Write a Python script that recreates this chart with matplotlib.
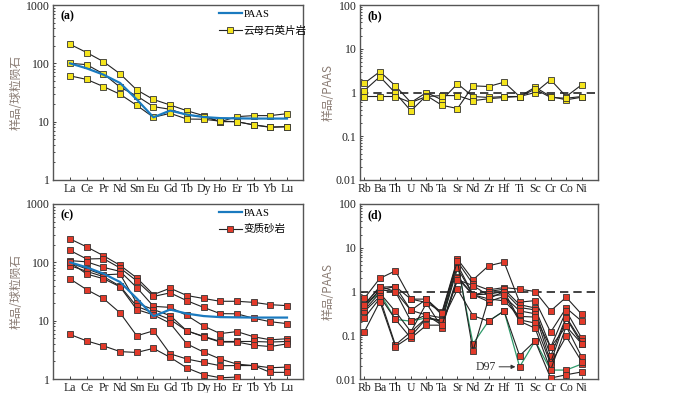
import numpy as np
import matplotlib
matplotlib.use("Agg")
import matplotlib.pyplot as plt
from matplotlib.ticker import FixedLocator, FixedFormatter, LogLocator, NullFormatter

plt.rcParams['font.family'] = ['Liberation Serif', 'Noto Sans CJK SC', 'DejaVu Sans']

# ---------------- data ----------------
ree = ["La", "Ce", "Pr", "Nd", "Sm", "Eu", "Gd", "Tb", "Dy", "Ho", "Er", "Tb", "Yb", "Lu"]
trace = ["Rb", "Ba", "Th", "U", "Nb", "Ta", "Sr", "Nd", "Zr", "Hf", "Ti", "Sc", "Cr", "Co", "Ni"]

paas_ree = [100, 82, 64, 46, 24, 11.9, 15.5, 13.2, 12.0, 11.5, 11.4, 11.3, 11.3, 11.3]

mica_ree = [
    [212, 153, 107, 66, 35, 24, 19.3, 15.4, 12.7, 10.0, 10.0, 8.8, 8.0, 8.2],
    [100, 95, 66, 39, 27.6, 18.1, 16.3, 13.0, 12.2, 10.0, 12.2, 12.7, 12.7, 13.7],
    [61, 53, 40, 29.5, 19, 11.9, 13.9, 11.1, 11.0, 10.2, 10.0, 8.8, 8.1, 8.2],
]

meta_ree = [
    [252, 184, 130, 89, 54, 28, 36, 27, 24, 21.5, 21.5, 20.6, 18.8, 18.1],
    [160, 114, 116, 80, 48, 26, 30, 22, 16.9, 13.2, 13.1, 11, 9.6, 8.9],
    [107, 102, 82, 70, 37, 17.6, 16.9, 12.3, 8.1, 6.0, 6.5, 5.3, 4.7, 4.9],
    [98, 77, 61, 63, 20, 15.5, 12.2, 6.7, 5.4, 4.4, 4.4, 4.4, 4.3, 4.4],
    [88, 70, 57, 39, 17.6, 13.6, 10.5, 6.7, 5.3, 4.3, 4.3, 3.8, 3.6, 4.0],
    [100, 63, 52.5, 38, 15.5, 12.6, 9.0, 4.0, 2.9, 2.2, 1.8, 1.7, 1.56, 1.6],
    [52, 34, 24, 13.6, 5.5, 6.7, 2.7, 2.2, 1.93, 1.69, 1.7, 1.7, 1.3, 1.3],
    [5.8, 4.5, 3.7, 2.95, 2.85, 3.35, 2.35, 1.55, 1.19, 1.05, 1.08, np.nan, np.nan, np.nan],
]

mica_trace = [
    [1.63, 3.0, 1.42, 0.59, 1.0, 0.68, 1.58, 0.81, 0.77, 0.81, 0.81, 1.0, 1.95, 0.81, 1.5],
    [1.11, 2.3, 0.97, 0.38, 0.85, 0.51, 0.43, 1.42, 1.37, 1.72, 0.81, 1.32, 0.81, 0.68, 0.78],
    [0.81, 0.81, 0.81, 0.59, 0.81, 0.85, 0.85, 0.65, 0.72, 0.77, 0.81, 1.19, 0.77, 0.74, 0.81],
]

meta_trace = [
    [0.70, 2.0, 2.96, 0.67, 0.56, 0.34, 5.5, 1.85, 3.86, 4.7, 0.57, 0.62, 0.118, 0.42, 0.21],
    [0.50, 1.25, 1.30, 0.37, 0.67, 0.29, 4.8, 1.47, 1.09, 1.23, 1.13, 1.0, 0.36, 0.74, 0.30],
    [0.44, 1.09, 1.0, 0.21, 0.29, 0.25, 4.1, 0.84, 1.0, 1.13, 0.50, 0.42, 0.053, 0.36, 0.086],
    [0.38, 0.92, 0.35, 0.12, 0.25, 0.22, 3.4, 0.84, 0.87, 1.0, 0.43, 0.38, 0.033, 0.26, 0.072],
    [0.35, 0.77, 0.23, 0.086, 0.17, 0.17, 2.2, 0.84, 0.59, 0.77, 0.36, 0.31, 0.024, 0.245, 0.064],
    [0.25, 0.70, 0.06, 0.12, 0.54, 0.15, 2.0, 0.84, 0.68, 0.61, 0.27, 0.26, 0.053, 0.16, 0.032],
    [0.12, 0.59, 0.055, 0.095, 0.245, 0.21, 1.13, 0.28, 0.21, 0.36, 0.034, 0.074, 0.0105, 0.0125, 0.0145],
    [0.44, 1.09, 1.3, 0.67, 0.67, 0.32, 5.0, 0.044, 0.68, 1.0, 0.225, 0.19, 0.022, 0.094, 0.025],
    [0.50, 1.3, 1.0, 0.37, 0.29, 0.17, 1.85, 1.37, 0.81, 0.84, 0.21, 0.145, 0.016, 0.16, 0.064],
]
d97_trace = [0.50, 0.92, 0.23, 0.21, 0.25, 0.21, 4.1, 0.064, 0.21, 0.36, 0.019, 0.074, 0.016, 0.016, 0.022]

# ---------------- styling ----------------
W, H = 700, 393
fig = plt.figure(figsize=(7.0, 3.93), dpi=100)

def ax_at(l, r, t, b):
    return fig.add_axes([l / W, 1 - b / H, (r - l) / W, (b - t) / H])

ax_a = ax_at(53, 303, 5, 180)
ax_b = ax_at(360, 598, 5, 180)
ax_c = ax_at(53, 303, 204, 379)
ax_d = ax_at(360, 598, 204, 379)

LBL_COL = '#8a7c74'
FRAME = '#555555'
BLUE = '#1a7abf'
YEL = '#f4e41c'
RED = '#e23a2a'
EDGE = '#333333'
FS = 8.5
LFS = 7.6

def style(ax, cats, ylim, yticks, ylabels, xlim):
    ax.set_yscale('log')
    ax.set_ylim(*ylim)
    ax.set_xlim(*xlim)
    ax.set_xticks(range(len(cats)))
    ax.set_xticklabels(cats, fontsize=FS)
    ax.yaxis.set_major_locator(FixedLocator(yticks))
    ax.yaxis.set_major_formatter(FixedFormatter(ylabels))
    ax.yaxis.set_minor_locator(LogLocator(base=10, subs=np.arange(2, 10)))
    ax.yaxis.set_minor_formatter(NullFormatter())
    ax.tick_params(axis='both', which='major', direction='in', length=2.5, width=0.6,
                   labelsize=FS, pad=2.5, colors='#222222')
    ax.tick_params(axis='y', which='minor', direction='in', length=1.5, width=0.5)
    for s in ax.spines.values():
        s.set_color(FRAME)
        s.set_linewidth(1.0)

ree_xlim = (-1.02, 13.96)
tr_xlim = (-0.28, 15.05)
LEG_PROP = {'family': ['Liberation Serif', 'Noto Sans CJK SC'], 'size': LFS}
CJK = ['Noto Sans CJK SC', 'DejaVu Sans']

# (a)
xr = np.arange(len(ree))
for s in mica_ree:
    ax_a.plot(xr, s, color='#222222', lw=0.8, marker='s', ms=4.5, mfc=YEL, mec=EDGE, mew=0.6, zorder=3)
ax_a.plot(xr, paas_ree, color=BLUE, lw=1.6, zorder=4)
style(ax_a, ree, (1, 1000), [1, 10, 100, 1000], ['1', '10', '100', '1000'], ree_xlim)
ax_a.set_ylabel('样品/球粒陨石', color=LBL_COL, fontsize=FS, labelpad=2, family=CJK)
h1, = ax_a.plot([], [], color=BLUE, lw=1.6)
h2, = ax_a.plot([], [], color='#222222', lw=0.8, marker='s', ms=4.5, mfc=YEL, mec=EDGE, mew=0.6)
ax_a.legend([h1, h2], ['PAAS', '云母石英片岩'], loc='upper left', frameon=False,
            handlelength=2.2, handletextpad=0.15, borderaxespad=0.0, borderpad=0.2,
            labelspacing=0.6, bbox_to_anchor=(0.655, 0.985), prop=LEG_PROP)
ax_a.text(0.03, 0.92, '(a)', transform=ax_a.transAxes, fontsize=FS, fontweight='bold')

# (b)
xt = np.arange(len(trace))
ax_b.axhline(1, color='#222222', lw=1.2, ls=(0, (5, 3)), zorder=2)
for s in mica_trace:
    ax_b.plot(xt, s, color='#222222', lw=0.8, marker='s', ms=4.5, mfc=YEL, mec=EDGE, mew=0.6, zorder=3)
style(ax_b, trace, (0.01, 100), [0.01, 0.1, 1, 10, 100], ['0.01', '0.1', '1', '10', '100'], tr_xlim)
ax_b.set_ylabel('样品/PAAS', color=LBL_COL, fontsize=FS, labelpad=1, family=CJK)
ax_b.text(0.03, 0.92, '(b)', transform=ax_b.transAxes, fontsize=FS, fontweight='bold')

# (c)
for s in meta_ree:
    ax_c.plot(xr, s, color='#222222', lw=0.8, marker='s', ms=4.5, mfc=RED, mec=EDGE, mew=0.6, zorder=3)
ax_c.plot(xr, paas_ree, color=BLUE, lw=1.6, zorder=4)
style(ax_c, ree, (1, 1000), [1, 10, 100, 1000], ['1', '10', '100', '1000'], ree_xlim)
ax_c.set_ylabel('样品/球粒陨石', color=LBL_COL, fontsize=FS, labelpad=2, family=CJK)
h3, = ax_c.plot([], [], color=BLUE, lw=1.6)
h4, = ax_c.plot([], [], color='#222222', lw=0.8, marker='s', ms=4.5, mfc=RED, mec=EDGE, mew=0.6)
ax_c.legend([h3, h4], ['PAAS', '变质砂岩'], loc='upper left', frameon=False,
            handlelength=2.2, handletextpad=0.15, borderaxespad=0.0, borderpad=0.2,
            labelspacing=0.6, bbox_to_anchor=(0.655, 0.985), prop=LEG_PROP)
ax_c.text(0.03, 0.92, '(c)', transform=ax_c.transAxes, fontsize=FS, fontweight='bold')

# (d)
ax_d.axhline(1, color='#222222', lw=1.2, ls=(0, (5, 3)), zorder=2)
ax_d.plot(xt, d97_trace, color='#2e9a6a', lw=0.9, marker='s', ms=4.5, mfc=RED, mec=EDGE, mew=0.6, zorder=3)
for s in meta_trace:
    ax_d.plot(xt, s, color='#222222', lw=0.8, marker='s', ms=4.5, mfc=RED, mec=EDGE, mew=0.6, zorder=3)
style(ax_d, trace, (0.01, 100), [0.01, 0.1, 1, 10, 100], ['0.01', '0.1', '1', '10', '100'], tr_xlim)
ax_d.set_ylabel('样品/PAAS', color=LBL_COL, fontsize=FS, labelpad=1, family=CJK)
ax_d.text(0.03, 0.92, '(d)', transform=ax_d.transAxes, fontsize=FS, fontweight='bold')
ax_d.annotate('D97', xy=(10, d97_trace[10]), xytext=(8.5, d97_trace[10]),
              fontsize=FS, va='center', ha='right', color='#333333',
              arrowprops=dict(arrowstyle='-|>', color='#333333', lw=0.7, mutation_scale=6,
                              shrinkA=0, shrinkB=3))

fig.savefig('out.png', dpi=100)
